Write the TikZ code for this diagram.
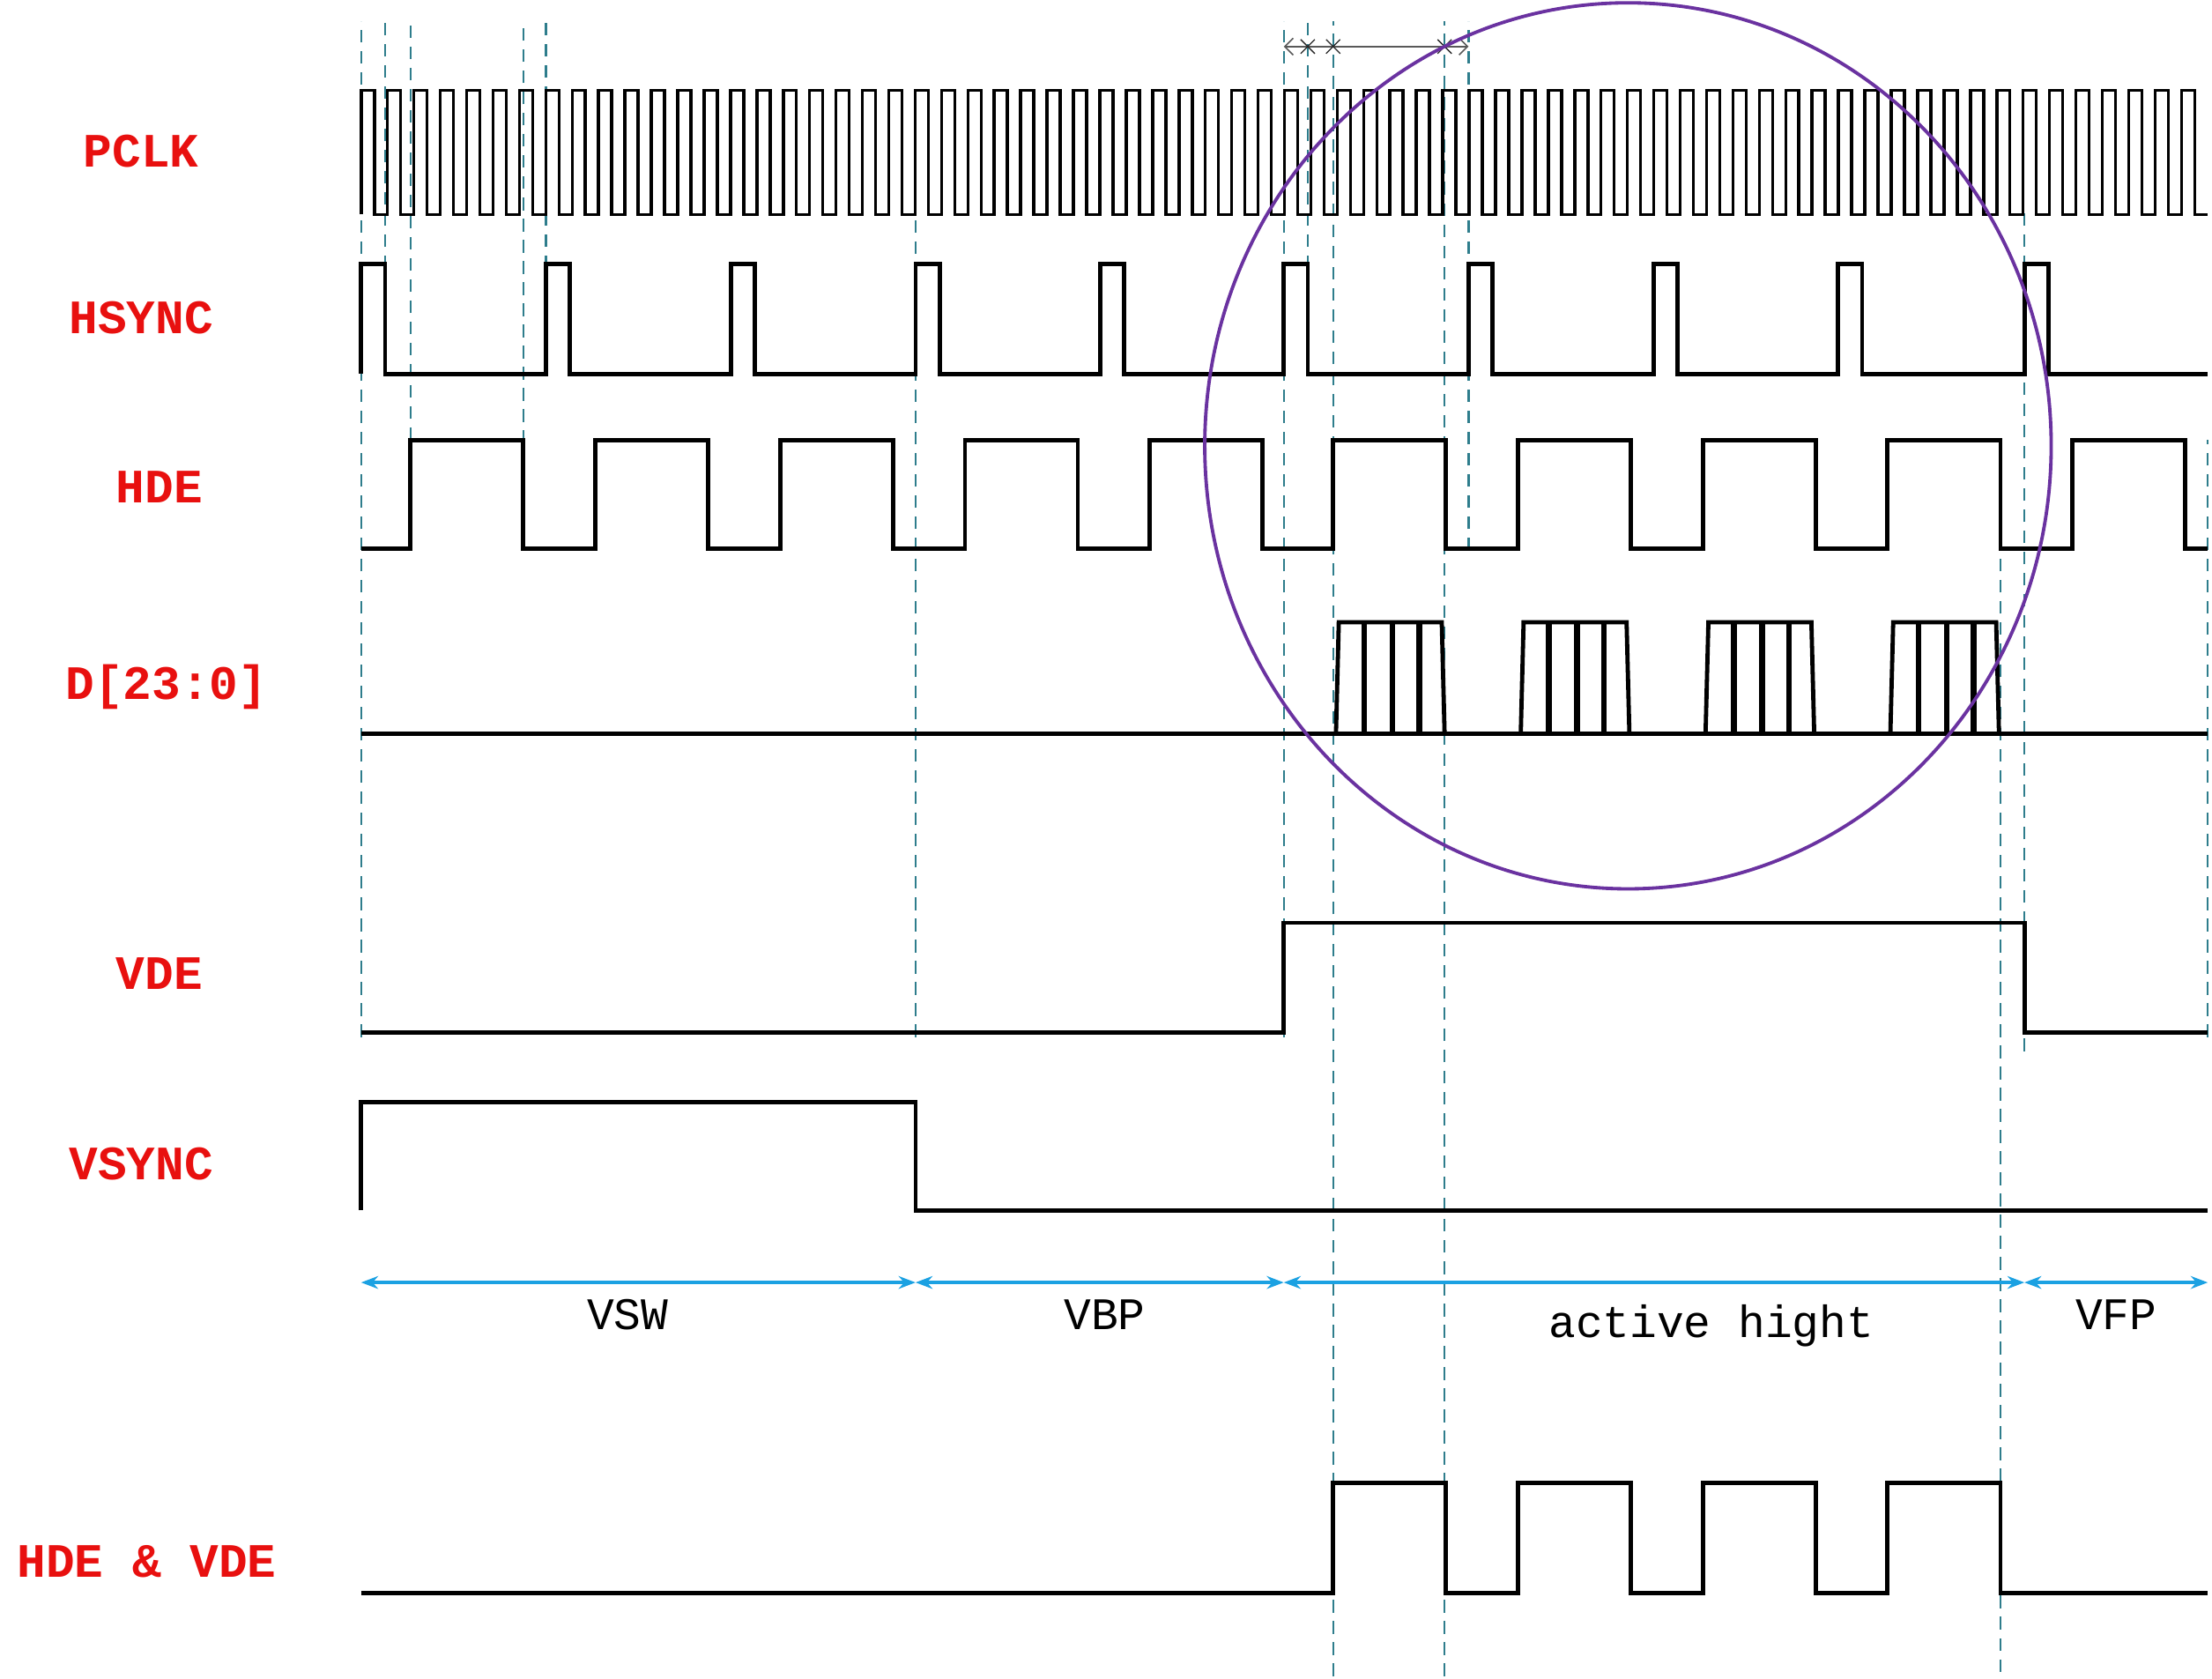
\documentclass[tikz,border=0pt]{standalone}
\usepackage{fontspec}
\setmonofont{Liberation Mono}
\usetikzlibrary{arrows.meta}
\definecolor{guide}{HTML}{2E7D8C}
\definecolor{lbl}{HTML}{E8100F}
\definecolor{span}{HTML}{1BA1E2}
\definecolor{ring}{HTML}{6A32A0}

\begin{document}
\begin{tikzpicture}[
x=1pt,y=-1pt,
sig/.style={line width=3pt,line join=miter},
guideline/.style={guide,dashed,line width=1.5pt,dash pattern=on 9pt off 6pt},
siglabel/.style={text=lbl,font=\ttfamily\bfseries\fontsize{34}{36}\selectfont},
spanlabel/.style={font=\ttfamily\fontsize{32}{34}\selectfont},
spanarrow/.style={span,line width=2.2pt,{Stealth[length=12pt,width=9pt]}-{Stealth[length=12pt,width=9pt]}},
]
\useasboundingbox (0,0) rectangle (1568,1190);

% guides
\foreach \x/\ya/\yb in {256/15/735,273/15/265,291/15/312,371/15/389,387/15/265,
  649/150/735,910/15/735,927/15/265,945/15/1188,1024/15/1188,1041/15/390,
  1418/312/1185,1435/150/745,1565/312/735}
  \draw[guideline] (\x,\yb) -- (\x,\ya);

% labels
\node[siglabel] (pclk) at (100,107) {PCLK};
\node[siglabel] (hsync) at (100,225) {HSYNC};
\node[siglabel] (hde) at (113,345) {HDE};
\node[siglabel] (data) at (118,487) {D[23:0]};
\node[siglabel] (vde) at (113,690) {VDE};
\node[siglabel] (vsync) at (100,825) {VSYNC};
\node[siglabel] (both) at (104,1107) {HDE \& VDE};

% PCLK
\draw[sig,line width=2.2pt] (256,152) \foreach \i in {1,...,70} { -- ++(0,-88) -- ++(9.35,0) -- ++(0,88) -- ++(9.35,0) };

% HSYNC
\draw[sig] (256,265) \foreach \x in {256,387,518,649,780,910,1041,1172,1303,1435}
  { -- (\x,265) -- (\x,187) -- (\x+17,187) -- (\x+17,265) } -- (1565,265);

% HDE
\draw[sig] (256,389) \foreach \x in {291,422,553,684,815,945,1076,1207,1338,1469}
  { -- (\x,389) -- (\x,312) -- (\x+80,312) -- (\x+80,389) } -- (1565,389);

% D[23:0]
\draw[sig] (256,520) -- (1565,520);
\foreach \x in {945,1076,1207,1338} {
  \draw[sig] (\x+2,520) -- (\x+4,441) -- (\x+77,441) -- (\x+79,520);
  \foreach \d in {22,42,61}
    \draw[line width=4pt] (\x+\d,441) -- (\x+\d,520);
}

% VDE
\draw[sig] (256,732) -- (910,732) -- (910,654) -- (1435,654) -- (1435,732) -- (1565,732);

% VSYNC
\draw[sig] (256,858) -- (256,781) -- (649,781) -- (649,858) -- (1565,858);

% spans
\coordinate (s0) at (256,909);
\coordinate (s1) at (649,909);
\coordinate (s2) at (910,909);
\coordinate (s3) at (1435,909);
\coordinate (s4) at (1565,909);
\draw[spanarrow] (s0) -- (s1);
\draw[spanarrow] (s1) -- (s2);
\draw[spanarrow] (s2) -- (s3);
\draw[spanarrow] (s3) -- (s4);
\node[spanlabel] (vsw) at (445,932) {VSW};
\node[spanlabel] (vbp) at (783,932) {VBP};
\node[spanlabel] (act) at (1213,940) {active hight};
\node[spanlabel] (vfp) at (1500,932) {VFP};

% HDE & VDE
\draw[sig] (256,1129) \foreach \x in {945,1076,1207,1338}
  { -- (\x,1129) -- (\x,1051) -- (\x+80,1051) -- (\x+80,1129) } -- (1565,1129);

% line timing marks
\draw[gray!70!black,line width=1pt,{Straight Barb[length=6pt]}-{Straight Barb[length=6pt]}] (910,33) -- (1041,33);
\foreach \x in {927,945,1024}
  \draw[gray!30!black,line width=0.8pt] (\x-5,28) -- (\x+5,38) (\x-5,38) -- (\x+5,28);

% focus ring
\draw[ring,line width=2.4pt] (1154,316) ellipse [x radius=300,y radius=314];
\end{tikzpicture}
\end{document}
